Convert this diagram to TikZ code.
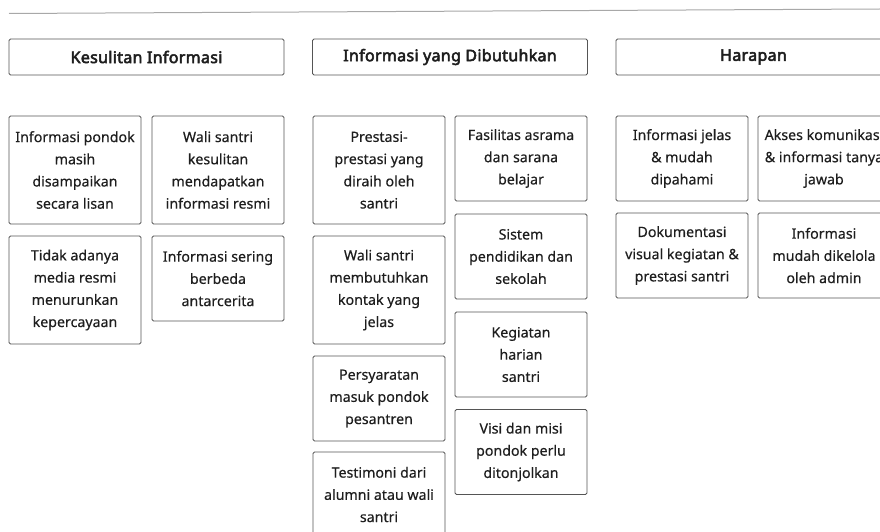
\documentclass[tikz,border=0pt]{standalone}
\usepackage{fontspec}
\setmainfont{Noto Sans}
\newfontfamily\headfont{Noto Sans}[FakeBold=3.2,LetterSpace=2]
\newfontfamily\cardfont{Noto Sans}[FakeBold=0.4]
\definecolor{edge}{HTML}{555555}
\definecolor{ink}{HTML}{1E1E1E}
\definecolor{rule}{HTML}{A8A8A8}
\begin{document}
\begin{tikzpicture}[x=1pt,y=-1pt,
  card/.style={draw=edge, line width=0.8pt, rounded corners=1.5pt, minimum width=132pt, inner sep=0pt, align=center, text=ink, font=\cardfont\fontsize{14.2}{22.2}\selectfont},
  head/.style={draw=edge, line width=0.8pt, rounded corners=1.5pt, minimum width=275pt, minimum height=36pt, inner sep=0pt, text=ink, font=\headfont\fontsize{16}{18}\selectfont},
  h85/.style={minimum height=85pt},
  h108/.style={minimum height=108pt}]
\useasboundingbox (0,0) rectangle (880,532);
\clip (0,0) rectangle (880,532);
\coordinate (rl) at (9,13.5);
\coordinate (rr) at (880,9);
\draw[rule, line width=1pt] (rl) -- (rr);
% headers
\node[head] (h1) at (146.5,57) {Kesulitan Informasi};
\node[head] (h2) at (450,57) {Informasi yang Dibutuhkan};
\node[head] (h3) at (753.5,57) {Harapan};
% column 1
\node[card,h108] (a1) at (75,170) {Informasi pondok\\masih\\disampaikan\\secara lisan};
\node[card,h108] (a2) at (218,170) {Wali santri\\kesulitan\\mendapatkan\\informasi resmi};
\node[card,h108] (a3) at (75,290) {Tidak adanya\\media resmi\\menurunkan\\kepercayaan};
\node[card,h85] (a4) at (218,278.5) {Informasi sering\\berbeda\\antarcerita};
% column 2
\node[card,h108] (b1) at (379,170) {Prestasi-\\prestasi yang\\diraih oleh\\santri};
\node[card,h85] (b2) at (521,158.5) {Fasilitas asrama\\dan sarana\\belajar};
\node[card,h85] (b3) at (521,256.5) {Sistem\\pendidikan dan\\sekolah};
\node[card,h108] (b4) at (379,290) {Wali santri\\membutuhkan\\kontak yang\\jelas};
\node[card,h85] (b5) at (521,354.5) {Kegiatan\\harian\\santri};
\node[card,h85] (b6) at (379,398.5) {Persyaratan\\masuk pondok\\pesantren};
\node[card,h85] (b7) at (521,452) {Visi dan misi\\pondok perlu\\ditonjolkan};
\node[card,h85] (b8) at (379,494.5) {Testimoni dari\\alumni atau wali\\santri};
% column 3
\node[card,h85] (c1) at (682,158.5) {Informasi jelas\\\& mudah\\dipahami};
\node[card,h85] (c2) at (824,158.5) {Akses komunikasi\\\& informasi tanya\\jawab};
\node[card,h85] (c3) at (682,255.5) {Dokumentasi\\visual kegiatan \&\\prestasi santri};
\node[card,h85] (c4) at (824,255.5) {Informasi\\mudah dikelola\\oleh admin};
\end{tikzpicture}
\end{document}
